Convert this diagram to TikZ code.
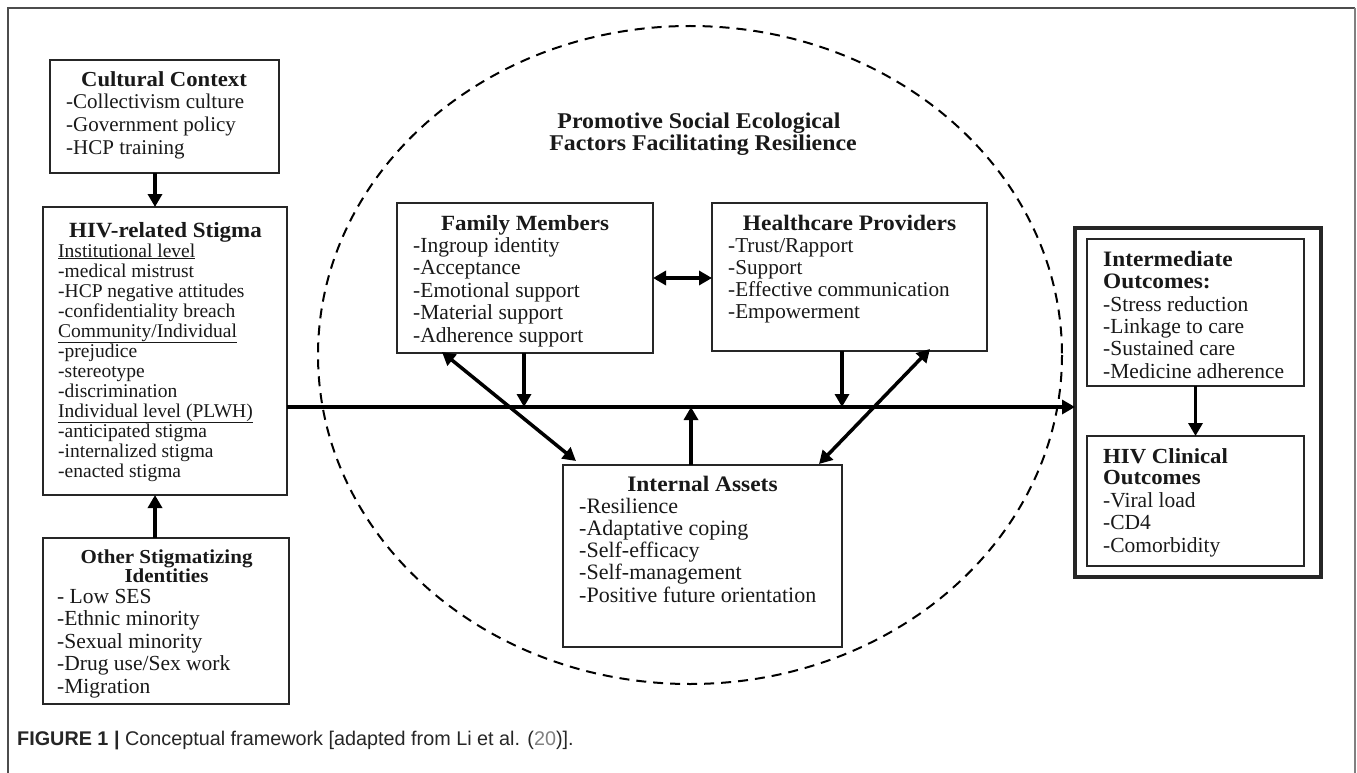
\documentclass[tikz,border=0pt]{standalone}
\usepackage{fontspec}
\setmainfont{Liberation Serif}[BoldFeatures={FakeStretch=1.06}]
\newfontfamily\capfont{Liberation Sans}
\usetikzlibrary{arrows.meta,calc}
\newcommand\fs[1]{\fontsize{#1}{#1}\selectfont}
\newcommand\blist[6]{%
  \foreach \itm [count=\i] in {#6}{%
    \node[txt, font=\fs{#5}] (#1-\i) at (#2,{#3+(\i-1)*#4}) {\itm};
  }}
\tikzset{
  txt/.style={anchor=base west, inner sep=0pt, text=black!90},
  ttl/.style={anchor=base, inner sep=0pt, text=black!90},
  ttlw/.style={anchor=base west, inner sep=0pt, text=black!90},
  box/.style={draw=black!85, line width=2pt, inner sep=0pt, outer sep=0pt, fill=white},
  arr/.style={line width=3.5pt, -{Triangle[length=13pt,width=14pt]}},
  darr/.style={line width=3.5pt, {Triangle[length=13pt,width=14pt]}-{Triangle[length=13pt,width=14pt]}},
}
\begin{document}
\begin{tikzpicture}[x=1pt,y=-1pt]
\useasboundingbox (0,0) rectangle (1357,773);
% frame
\draw[black!70, line width=1.3pt] (8,773) -- (8,8) -- (1355,8);
\draw[black!50, line width=2pt] (1355,8) -- (1355,773);
% dashed ellipse
\draw[line width=2pt, dash pattern=on 10pt off 7pt] (690,355) ellipse [x radius=372, y radius=329];

% boxes
\node[box, minimum width=229pt, minimum height=113pt] (cc) at (164.5,116.5) {};
\node[box, minimum width=244pt, minimum height=288pt] (hiv) at (165,351) {};
\node[box, minimum width=246pt, minimum height=166pt] (oth) at (166,621) {};
\node[box, minimum width=256pt, minimum height=150pt] (fam) at (525,278) {};
\node[box, minimum width=275pt, minimum height=148pt] (hcp) at (849.5,277) {};
\node[box, minimum width=279pt, minimum height=182pt] (ia) at (702.5,556) {};
\node[box, line width=3.5pt, minimum width=246pt, minimum height=349pt] (outer) at (1198,402.5) {};
\node[box, minimum width=217pt, minimum height=147pt] (inter) at (1195.5,312.5) {};
\node[box, minimum width=217pt, minimum height=130pt] (clin) at (1195.5,501) {};

% circle title
\node[ttl, font=\bfseries\fs{22.5}] (pt1) at (699,129) {Promotive Social Ecological};
\node[ttl, font=\bfseries\fs{22.5}] (pt2) at (703,150) {Factors Facilitating Resilience};

% cultural context
\node[ttl, font=\bfseries\fs{21.4}] (cc-t) at (164,87) {Cultural Context};
\blist{ccl}{66}{109}{22.5}{21}{-Collectivism culture,-Government policy,-HCP training}

% HIV-related stigma
\node[ttl, font=\bfseries\fs{21.7}] (hiv-t) at (165.5,237) {HIV-related Stigma};
\blist{hivl}{58}{257}{20}{19.5}{{\underline{Institutional level}},-medical mistrust,-HCP negative attitudes,-confidentiality breach,{\underline{Community/Individual}},-prejudice,-stereotype,-discrimination,{\underline{Individual level (PLWH)}},-anticipated stigma,-internalized stigma,-enacted stigma}

% other stigmatizing identities
\node[ttl, font=\bfseries\fs{19.8}] (oth-t1) at (166.5,563) {Other Stigmatizing};
\node[ttl, font=\bfseries\fs{19.8}] (oth-t2) at (166.5,582) {Identities};
\blist{othl}{57}{603}{22.5}{21.5}{- Low SES,-Ethnic minority,-Sexual minority,-Drug use/Sex work,-Migration}

% family members
\node[ttl, font=\bfseries\fs{21.7}] (fam-t) at (525,230) {Family Members};
\blist{faml}{413}{252}{22.5}{21.5}{-Ingroup identity,-Acceptance,-Emotional support,-Material support,-Adherence support}

% healthcare providers
\node[ttl, font=\bfseries\fs{22.1}] (hcp-t) at (849.5,230) {Healthcare Providers};
\blist{hcpl}{728}{252}{22.2}{21.2}{-Trust/Rapport,-Support,-Effective communication,-Empowerment}

% internal assets
\node[ttl, font=\bfseries\fs{22.1}] (ia-t) at (702.5,491) {Internal Assets};
\blist{ial}{579}{513}{22.3}{22}{-Resilience,-Adaptative coping,-Self-efficacy,-Self-management,-Positive future orientation}

% intermediate outcomes
\node[ttlw, font=\bfseries\fs{22}] (int-t1) at (1103,266) {Intermediate};
\node[ttlw, font=\bfseries\fs{22}] (int-t2) at (1103,288) {Outcomes:};
\blist{intl}{1103}{311}{22.4}{21.5}{-Stress reduction,-Linkage to care,-Sustained care,-Medicine adherence}

% clinical outcomes
\node[ttlw, font=\bfseries\fs{21.5}] (cl-t1) at (1103,463) {HIV Clinical};
\node[ttlw, font=\bfseries\fs{21.5}] (cl-t2) at (1103,484) {Outcomes};
\blist{cll}{1103}{507}{22.5}{21.5}{-Viral load,-CD4,-Comorbidity}

% connectors
\coordinate (ax) at (155,0);
\coordinate (m) at (0,407);
\coordinate (y1) at (0,278);
\coordinate (j1) at (524,407);
\coordinate (j2) at (842,407);
\coordinate (j3) at (691,407);
\draw[arr] (cc.south -| ax) -- (hiv.north -| ax);
\draw[arr] (oth.north -| ax) -- (hiv.south -| ax);
\draw[arr] (hiv.east |- m) -- (outer.west |- m);
\draw[arr] (fam.south -| j1) -- (j1);
\draw[arr] (hcp.south -| j2) -- (j2);
\draw[arr] (ia.north -| j3) -- (j3);
\draw[darr] (fam.east |- y1) -- (hcp.west |- y1);
\draw[darr] ($(fam.south west)+(45,-1)$) -- ($(ia.north west)+(13,-4)$);
\draw[darr] ($(hcp.south west)+(218,-2)$) -- ($(ia.north west)+(256,-1)$);
\draw[arr] (inter.south) -- (clin.north);

% caption
\node[anchor=base west, inner sep=0pt, font=\capfont\fs{19.8}, text=black!85] (cap) at (17,745)
  {{\bfseries FIGURE 1 |} Conceptual framework [adapted from Li et al. ({\color{black!50}20})].};
\end{tikzpicture}
\end{document}
